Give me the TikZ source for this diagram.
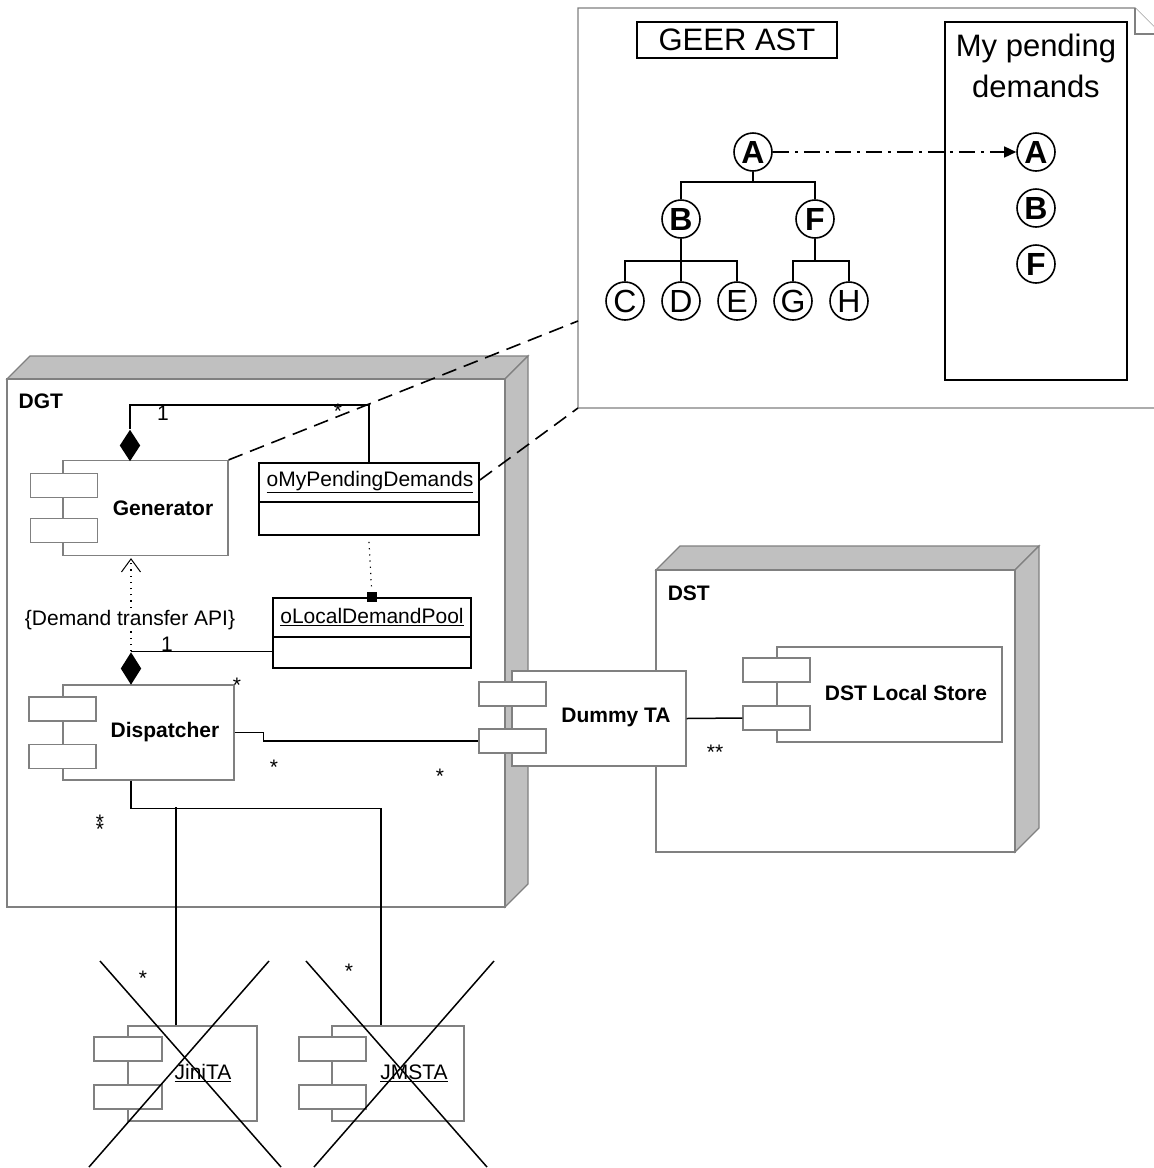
\documentclass[tikz,border=0pt]{standalone}
\usepackage{fontspec}
\setmainfont{Liberation Sans}
\usetikzlibrary{shapes.geometric,arrows.meta}
\definecolor{nodegrey}{RGB}{192,192,192}
\definecolor{edgegrey}{RGB}{128,128,128}
\tikzset{ body_style/.style = { rectangle % component body
        , draw = edgegrey
        , fill = white
        , line width = 1.2pt
        , minimum height = 95pt
        }
        , port_style/.style = { rectangle % component port
        , draw = edgegrey
        , fill = white
        , line width = 1.2pt
        , minimum width = 67pt
        , minimum height = 24pt
        }
        , class_style/.style = { rectangle % object box
        , draw = black
        , fill = white
        , line width = 1.8pt
        }
        , dia_style/.style = { diamond % composition end
        , fill = black
        , inner sep = 0pt
        , minimum width = 21pt
        , minimum height = 32pt
        }
        }

\begin{document}
\begin{tikzpicture}[x=1pt, y=-1pt, line width=1.5pt,
        txt_style/.style={font=\fontsize{21}{25}\selectfont, inner sep=0pt},
        bold_txt_style/.style={font=\fontsize{21}{25}\selectfont\bfseries, inner sep=0pt},
        big_txt_style/.style={font=\fontsize{31}{36}\selectfont, inner sep=0pt},
        tree_node_style/.style={circle, draw=black, line width=1.6pt, fill=white, minimum size=38pt, inner sep=0pt, font=\fontsize{32}{36}\selectfont},
        sel_tree_node_style/.style={tree_node_style, font=\fontsize{32}{36}\selectfont\bfseries},
        face_style/.style={draw=edgegrey, fill=nodegrey, line width=1.2pt},
        front_style/.style={draw=edgegrey, fill=white, line width=1.2pt},
        note_style/.style={draw=edgegrey, fill=white, line width=1.2pt},
        zoom_edge_style/.style={draw=black, line width=1.6pt, dash pattern=on 15pt off 8pt},
        dot_edge_style/.style={draw=black, line width=1.2pt, dash pattern=on 1.2pt off 5pt},
        cross_style/.style={draw=black, line width=1.5pt}]
        \useasboundingbox (0,0) rectangle (1154,1168);
        \clip (0,0) rectangle (1154,1168);

        % DGT node
        \draw [face_style] (7,379) -- (30,356) -- (528,356) -- (505,379) -- cycle;
        \draw [face_style] (505,379) -- (528,356) -- (528,884) -- (505,907) -- cycle;
        \draw [front_style] (7,379) rectangle (505,907);
        \node [bold_txt_style, anchor=west] (dgt) at (18,401) {DGT};

        % DST node
        \draw [face_style] (656,570) -- (680,546) -- (1039,546) -- (1015,570) -- cycle;
        \draw [face_style] (1015,570) -- (1039,546) -- (1039,828) -- (1015,852) -- cycle;
        \draw [front_style] (656,570) rectangle (1015,852);
        \node [bold_txt_style, anchor=west] (dst) at (667,593) {DST};

        % note with the AST
        \draw [note_style] (578,8) -- (1135,8) -- (1161,34) -- (1161,408) -- (578,408) -- cycle;
        \draw [note_style] (1135,8) -- (1135,34) -- (1161,34);
        \coordinate (note_cut) at (578,321);
        \coordinate (note_corner) at (578,408);
        \node [class_style, line width=1.5pt, minimum width=200pt, minimum height=36pt, big_txt_style] (ast) at (737,40) {GEER AST};
        \node [class_style, line width=1.5pt, minimum width=182pt, minimum height=358pt] (pd_box) at (1036,201) {};
        \node [big_txt_style] (pd_t1) at (1036,48) {My pending};
        \node [big_txt_style] (pd_t2) at (1036,86) {demands};

        \node [sel_tree_node_style] (a) at (753,152) {A};
        \node [sel_tree_node_style] (b) at (681,219) {B};
        \node [sel_tree_node_style] (f) at (815,219) {F};
        \node [tree_node_style] (c) at (625,301) {C};
        \node [tree_node_style] (d) at (681,301) {D};
        \node [tree_node_style] (e) at (737,301) {E};
        \node [tree_node_style] (g) at (793,301) {G};
        \node [tree_node_style] (h) at (849,301) {H};
        \draw (a.south) -- ++(0,10) -| (b.north);
        \draw (a.south) -- ++(0,10) -| (f.north);
        \draw (b.south) -- ++(0,22) -| (c.north);
        \draw (b.south) -- (d.north);
        \draw (b.south) -- ++(0,22) -| (e.north);
        \draw (f.south) -- ++(0,22) -| (g.north);
        \draw (f.south) -- ++(0,22) -| (h.north);

        \node [sel_tree_node_style] (pa) at (1036,152) {A};
        \node [sel_tree_node_style] (pb) at (1036,208) {B};
        \node [sel_tree_node_style] (pf) at (1036,264) {F};
        \draw [dash pattern=on 16pt off 6pt on 3pt off 6pt, -{Triangle[length=12pt,width=11pt]}] (a) -- (pa);

        % Generator
        \node [body_style, minimum width=165pt] (gen) at (145.5,508) {};
        \node [port_style] (gen_p1) at (64,485.5) {};
        \node [port_style] (gen_p2) at (64,530.5) {};
        \node [bold_txt_style] (gen_t) at (163,508) {Generator};
        \node [dia_style] (gen_dia) at (130,445.5) {};

        % objects
        \node [class_style, minimum width=220pt, minimum height=72pt] (pend) at (369,499) {};
        \draw [line width=1.8pt] (pend.west |- 0,502) -- (pend.east |- 0,502);
        \node [txt_style] (pend_t) at (370,482) {\underline{oMyPendingDemands}};
        \node [class_style, minimum width=198pt, minimum height=70pt] (pool) at (372,633) {};
        \draw [line width=1.8pt] (pool.west |- 0,637) -- (pool.east |- 0,637);
        \node [txt_style] (pool_t) at (372,617) {\underline{oLocalDemandPool}};
        \node [fill=black, inner sep=0pt, minimum size=10pt] (pool_sq) at (pool.north) {};
        \draw [dot_edge_style] ([yshift=-6pt]pend.south) -- (pool_sq);

        \draw [zoom_edge_style] (gen.north east) -- (note_cut);
        \draw [zoom_edge_style] ([yshift=19pt]pend.east) -- (note_corner);

        \draw (gen_dia.north) -- ++(0,-24) -| (pend.north);
        \node [txt_style] (gen_one) at (163,413) {1};
        \node [txt_style] (gen_star) at (338,411) {*};

        % Dispatcher
        \node [body_style, minimum width=171pt] (disp) at (148.5,732.5) {};
        \node [port_style] (disp_p1) at (62.5,709) {};
        \node [port_style] (disp_p2) at (62.5,756.5) {};
        \node [bold_txt_style] (disp_t) at (165,732) {Dispatcher};
        \node [dia_style, minimum height=33pt] (disp_dia) at (131,668.5) {};
        \node [txt_style] (disp_star) at (237,685) {*};

        \draw [dot_edge_style, -{Straight Barb[length=13pt,width=19pt,line width=1pt]}] (disp_dia.north) -- ([yshift=-2pt]gen.south -| disp_dia.north);
        \node [txt_style, fill=white, inner sep=1pt] (api) at (130,620) {\{Demand transfer API\}};
        \draw (disp_dia.north) -- (disp_dia.north -| pool.west);
        \node [txt_style] (pool_one) at (167,644) {1};

        % Dummy TA
        \node [body_style, minimum width=174pt] (dta) at (599,718.5) {};
        \node [port_style] (dta_p1) at (512.5,694) {};
        \node [port_style] (dta_p2) at (512.5,741) {};
        \node [bold_txt_style] (dta_t) at (616,717) {Dummy TA};

        % DST Local Store
        \node [body_style, minimum width=225pt] (dls) at (889.5,694.5) {};
        \node [port_style] (dls_p1) at (776.5,670) {};
        \node [port_style] (dls_p2) at (776.5,718) {};
        \node [bold_txt_style] (dls_t) at (906,693) {DST Local Store};

        \draw (disp.east) -- ++(29,0) |- (dta_p2.west);
        \node [txt_style] (ds_star1) at (274,767) {*};
        \node [txt_style] (ds_star2) at (440,776) {*};
        \draw (dta.east) -- (dls_p2.west);
        \node [txt_style] (dd_star) at (715,752) {**};

        % crossed out TAs
        \node [body_style, minimum width=129pt] (jini) at (192.5,1073.5) {};
        \node [port_style, minimum width=68pt] (jini_p1) at (128,1049) {};
        \node [port_style, minimum width=68pt] (jini_p2) at (128,1097) {};
        \node [txt_style] (jini_t) at (203,1073) {\underline{JiniTA}};
        \node [body_style, minimum width=132pt] (jms) at (398,1073.5) {};
        \node [port_style] (jms_p1) at (332.5,1049) {};
        \node [port_style] (jms_p2) at (332.5,1097) {};
        \node [txt_style] (jms_t) at (414,1073) {\underline{JMSTA}};

        \draw (disp.south -| disp_dia.south) -- ++(0,28) -| (jms.north -| 381,0);
        \draw ([xshift=-16.5pt]jini.north) -- ++(0,-218);
        \node [txt_style] (dj_star) at (100,826) {*\llap{\raisebox{-7pt}{*}}};
        \node [txt_style] (jini_star) at (143,978) {*};
        \node [txt_style] (jms_star) at (349,971) {*};

        \draw [cross_style] (100,961) -- (281,1167);
        \draw [cross_style] (269,961) -- (89,1167);
        \draw [cross_style] (306,961) -- (487,1167);
        \draw [cross_style] (494,961) -- (314,1167);
\end{tikzpicture}
\end{document}
